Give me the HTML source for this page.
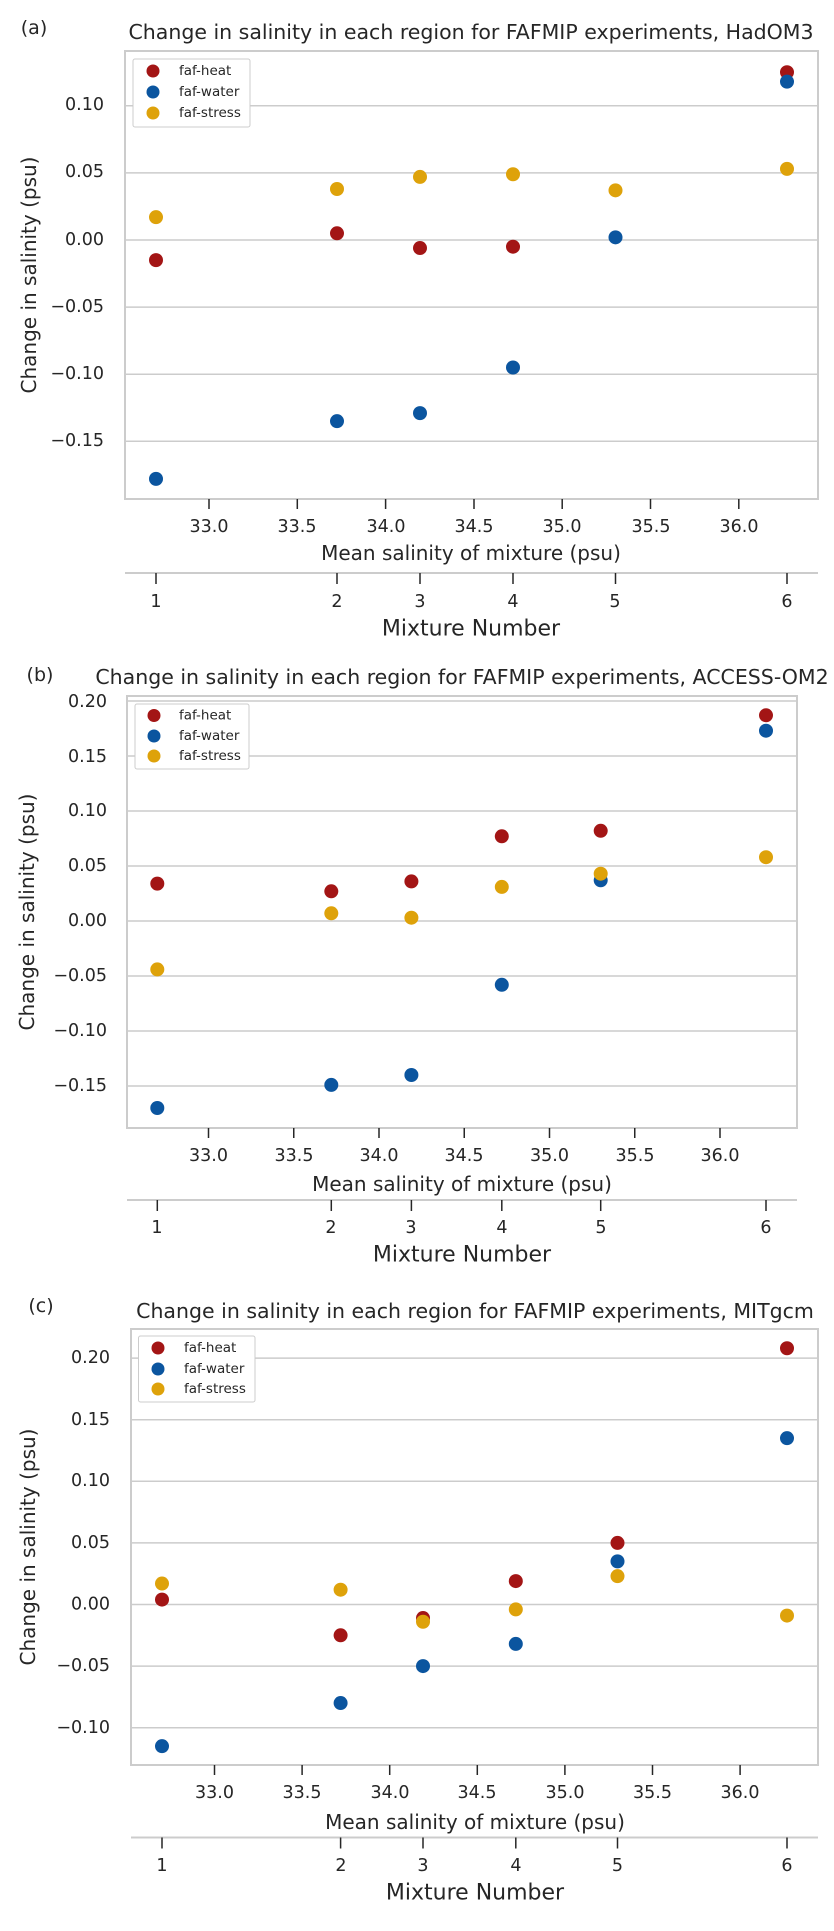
<!DOCTYPE html>
<html><head><meta charset="utf-8"><style>
body{margin:0;background:#fff}
svg{display:block}
text{font-family:"DejaVu Sans","Liberation Sans",sans-serif;fill:#262626}
.tk{font-size:17.5px}
.lb{font-size:20px}
.tt{font-size:20.5px}
.lg{font-size:13.5px}
.pl{font-size:19px}
.mn{font-size:22px}
</style></head><body>
<svg id="s" width="834" height="1931" xmlns="http://www.w3.org/2000/svg">
<g id="g"></g>
<!-- Panel a -->
<text x="34" y="28" class="pl" text-anchor="middle" dominant-baseline="central">(a)</text>
<text x="471" y="32" class="tt" text-anchor="middle" dominant-baseline="central">Change in salinity in each region for FAFMIP experiments, HadOM3</text>
<g class="tk" text-anchor="end" dominant-baseline="central">
<text x="104" y="105">0.10</text><text x="104" y="172">0.05</text><text x="104" y="240">0.00</text>
<text x="104" y="307">−0.05</text><text x="104" y="374">−0.10</text><text x="104" y="441">−0.15</text></g>
<g class="tk" text-anchor="middle" dominant-baseline="central">
<text x="209" y="527">33.0</text><text x="297" y="527">33.5</text><text x="386" y="527">34.0</text><text x="474" y="527">34.5</text><text x="562" y="527">35.0</text><text x="651" y="527">35.5</text><text x="739" y="527">36.0</text>
<text x="156" y="602">1</text><text x="337" y="602">2</text><text x="420" y="602">3</text><text x="513" y="602">4</text><text x="615" y="602">5</text><text x="787" y="602">6</text></g>
<text x="471" y="553" class="lb" text-anchor="middle" dominant-baseline="central">Mean salinity of mixture (psu)</text>
<text x="471" y="629" class="mn" text-anchor="middle" dominant-baseline="central">Mixture Number</text>
<text transform="translate(29,275) rotate(-90)" class="lb" text-anchor="middle" dominant-baseline="central">Change in salinity (psu)</text>
<g class="lg" dominant-baseline="central"><text x="179" y="71">faf-heat</text><text x="179" y="92">faf-water</text><text x="179" y="113">faf-stress</text></g>
<!-- Panel b -->
<text x="40" y="675" class="pl" text-anchor="middle" dominant-baseline="central">(b)</text>
<text x="462" y="677" class="tt" text-anchor="middle" dominant-baseline="central">Change in salinity in each region for FAFMIP experiments, ACCESS-OM2</text>
<g class="tk" text-anchor="end" dominant-baseline="central">
<text x="107" y="702">0.20</text><text x="107" y="757">0.15</text><text x="107" y="811">0.10</text><text x="107" y="866">0.05</text><text x="107" y="921">0.00</text>
<text x="107" y="976">−0.05</text><text x="107" y="1031">−0.10</text><text x="107" y="1086">−0.15</text></g>
<g class="tk" text-anchor="middle" dominant-baseline="central">
<text x="208.5" y="1156">33.0</text><text x="294" y="1156">33.5</text><text x="379" y="1156">34.0</text><text x="464" y="1156">34.5</text><text x="549.5" y="1156">35.0</text><text x="635" y="1156">35.5</text><text x="720" y="1156">36.0</text>
<text x="157" y="1228">1</text><text x="331" y="1228">2</text><text x="411" y="1228">3</text><text x="502" y="1228">4</text><text x="601" y="1228">5</text><text x="766" y="1228">6</text></g>
<text x="462" y="1184" class="lb" text-anchor="middle" dominant-baseline="central">Mean salinity of mixture (psu)</text>
<text x="462" y="1255" class="mn" text-anchor="middle" dominant-baseline="central">Mixture Number</text>
<text transform="translate(27,912) rotate(-90)" class="lb" text-anchor="middle" dominant-baseline="central">Change in salinity (psu)</text>
<g class="lg" dominant-baseline="central"><text x="179" y="715.5">faf-heat</text><text x="179" y="736">faf-water</text><text x="179" y="756">faf-stress</text></g>
<!-- Panel c -->
<text x="41" y="1306" class="pl" text-anchor="middle" dominant-baseline="central">(c)</text>
<text x="475" y="1311" class="tt" text-anchor="middle" dominant-baseline="central">Change in salinity in each region for FAFMIP experiments, MITgcm</text>
<g class="tk" text-anchor="end" dominant-baseline="central">
<text x="110" y="1358">0.20</text><text x="110" y="1420">0.15</text><text x="110" y="1481">0.10</text><text x="110" y="1543">0.05</text><text x="110" y="1604.5">0.00</text>
<text x="110" y="1666">−0.05</text><text x="110" y="1728">−0.10</text></g>
<g class="tk" text-anchor="middle" dominant-baseline="central">
<text x="214.5" y="1793">33.0</text><text x="302" y="1793">33.5</text><text x="390" y="1793">34.0</text><text x="477" y="1793">34.5</text><text x="565" y="1793">35.0</text><text x="652.5" y="1793">35.5</text><text x="740" y="1793">36.0</text>
<text x="162" y="1866">1</text><text x="341" y="1866">2</text><text x="423" y="1866">3</text><text x="516" y="1866">4</text><text x="617.5" y="1866">5</text><text x="787" y="1866">6</text></g>
<text x="475" y="1822" class="lb" text-anchor="middle" dominant-baseline="central">Mean salinity of mixture (psu)</text>
<text x="475" y="1893" class="mn" text-anchor="middle" dominant-baseline="central">Mixture Number</text>
<text transform="translate(28,1547) rotate(-90)" class="lb" text-anchor="middle" dominant-baseline="central">Change in salinity (psu)</text>
<g class="lg" dominant-baseline="central"><text x="184" y="1348">faf-heat</text><text x="184" y="1369">faf-water</text><text x="184" y="1389">faf-stress</text></g>
</svg>
<script>
var NS="http://www.w3.org/2000/svg",G=document.getElementById('g');
function el(t,a){var e=document.createElementNS(NS,t);for(var k in a)e.setAttribute(k,a[k]);G.appendChild(e);return e;}
var C=['#a31515','#0b559f','#dea20a'];
var P=[
{L:125,R:818,T:51,B:499,y0:240,k:1342,yt:[0.10,0.05,0,-0.05,-0.10,-0.15],xt:[209,297.3,385.6,474,562.2,650.5,738.8],mx:[156,337,420,513,615.5,787],ax2:573,
 leg:[133,59,250,127,153,[71,92,113]],
 d:[[-0.015,0.005,-0.006,-0.005,0.0,0.125],[-0.178,-0.135,-0.129,-0.095,0.002,0.118],[0.017,0.038,0.047,0.049,0.037,0.053]]},
{L:127,R:797,T:696,B:1128,y0:921,k:1100,yt:[0.20,0.15,0.10,0.05,0,-0.05,-0.10,-0.15],xt:[208.5,293.75,379,464.25,549.5,634.75,720],mx:[157.3,331.3,411.4,501.8,600.7,766],ax2:1200,
 leg:[135,704,249,769,154,[715.5,736,756]],
 d:[[0.034,0.027,0.036,0.077,0.082,0.187],[-0.170,-0.149,-0.140,-0.058,0.037,0.173],[-0.044,0.007,0.003,0.031,0.043,0.058]]},
{L:131,R:818,T:1329,B:1765,y0:1604.5,k:1232,yt:[0.20,0.15,0.10,0.05,0,-0.05,-0.10],xt:[214.5,302.1,389.7,477.3,564.9,652.5,740.1],mx:[162,340.6,423,515.8,617.5,787],ax2:1837.5,
 leg:[138.5,1336,255,1402,158,[1348,1369,1389]],
 d:[[0.004,-0.025,-0.011,0.019,0.050,0.208],[-0.115,-0.080,-0.050,-0.032,0.035,0.135],[0.017,0.012,-0.014,-0.004,0.023,-0.009]]}];
P.forEach(function(p){
 el('rect',{x:p.L,y:p.T,width:p.R-p.L,height:p.B-p.T,fill:'#fff'});
 p.yt.forEach(function(v){var y=p.y0-v*p.k;el('line',{x1:p.L,x2:p.R,y1:y,y2:y,stroke:'#cccccc','stroke-width':1.5});});
 el('rect',{x:p.L,y:p.T,width:p.R-p.L,height:p.B-p.T,fill:'none',stroke:'#cccccc','stroke-width':2});
 p.xt.forEach(function(x){el('line',{x1:x,x2:x,y1:p.B,y2:p.B+10,stroke:'#262626','stroke-width':1.5});});
 el('line',{x1:p.L,x2:p.R,y1:p.ax2,y2:p.ax2,stroke:'#cccccc','stroke-width':2});
 p.mx.forEach(function(x){el('line',{x1:x,x2:x,y1:p.ax2,y2:p.ax2+11,stroke:'#262626','stroke-width':1.5});});
 for(var s=0;s<3;s++)p.d[s].forEach(function(v,i){if(s==0&&p===P[0]&&i==4)return;el('circle',{cx:p.mx[i],cy:p.y0-v*p.k,r:7,fill:C[s]});});
 var l=p.leg;el('rect',{x:l[0],y:l[1],width:l[2]-l[0],height:l[3]-l[1],fill:'#fff',stroke:'#cccccc','stroke-width':1,rx:2});
 for(var s=0;s<3;s++)el('circle',{cx:l[4],cy:l[5][s],r:6.5,fill:C[s]});
});
var svg=document.getElementById('s');svg.insertBefore(G,svg.firstChild);
</script>
</body></html>
